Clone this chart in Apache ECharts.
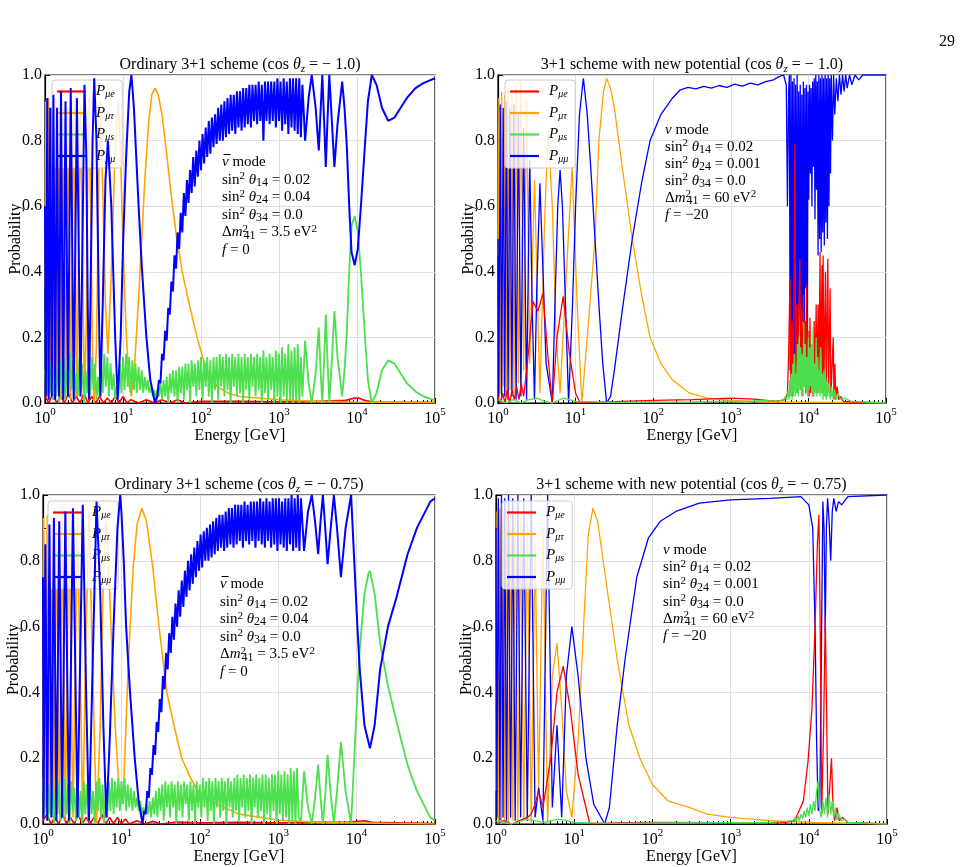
<!DOCTYPE html>
<html>
<head>
<meta charset="utf-8">
<script src="https://cdn.jsdelivr.net/npm/echarts@6/dist/echarts.min.js"></script>
<style>
html, body { margin: 0; padding: 0; background: #fff; }
#main { width: 969px; height: 867px; }
</style>
</head>
<body>
<div id="main"></div>
<script>
// points are [log10(E / GeV), probability]
let names = ['P_μe', 'P_μτ', 'P_μs', 'P_μμ'];
let colors = ['#ff0000', '#ffa500', '#4ddf4d', '#0000ff'];
let xTicks = [0, 1, 2, 3, 4, 5];

// ---- top left: ordinary 3+1, cos = -1.0, antineutrino
let tlMuE = [[0,0.02],[0.05,0.0],[0.1,0.03],[0.15,0.0],[0.2,0.02],[0.25,0.0],[0.3,0.03],[0.35,0.0],[0.4,0.02],[0.45,0.0],[0.5,0.03],[0.55,0.0],[0.6,0.02],[0.65,0.0],[0.7,0.02],[0.75,0.0],[0.8,0.015],[0.85,0.0],[0.9,0.02],[0.95,0.0],[1.0,0.02],[1.05,0.0],[1.1,0.01],[1.2,0.0],[1.3,0.01],[1.4,0.0],[1.5,0.01],[1.6,0.0],[1.7,0.01],[1.8,0.0],[2.0,0.005],[2.5,0.005],[3.0,0.004],[3.5,0.005],[3.85,0.008],[3.95,0.014],[4.02,0.015],[4.1,0.008],[4.2,0.003],[5,0.001]];
let tlMuTau = [[0,0.35],[0.011,0.92],[0.029,0.02],[0.047,0.93],[0.067,0.04],[0.087,0.9],[0.108,0.01],[0.13,0.93],[0.154,0.05],[0.179,0.91],[0.205,0.01],[0.233,0.92],[0.263,0.03],[0.295,0.9],[0.33,0.01],[0.368,0.92],[0.409,0.02],[0.455,0.91],[0.506,0.01],[0.53,0.25],[0.548,0.7],[0.564,0.93],[0.585,0.6],[0.61,0.15],[0.631,0.0],[0.66,0.18],[0.69,0.7],[0.71,0.92],[0.74,0.65],[0.775,0.3],[0.807,0.15],[0.85,0.4],[0.9,0.78],[0.94,0.92],[0.97,0.75],[1.0,0.48],[1.04,0.22],[1.08,0.05],[1.108,0.02],[1.15,0.12],[1.2,0.32],[1.24,0.5],[1.28,0.68],[1.33,0.86],[1.37,0.94],[1.41,0.96],[1.45,0.94],[1.5,0.88],[1.56,0.76],[1.62,0.63],[1.69,0.5],[1.76,0.4],[1.85,0.3],[1.95,0.2],[2.02,0.14],[2.08,0.1],[2.15,0.07],[2.21,0.05],[2.35,0.03],[2.5,0.02],[3.0,0.01],[3.5,0.005],[4.0,0.003],[5.0,0.001]];
let tlMuS = [[0,0.1],[0.02,0.02],[0.04,0.14],[0.06,0.03],[0.08,0.12],[0.1,0.01],[0.12,0.15],[0.14,0.02],[0.16,0.1],[0.18,0.0],[0.2,0.13],[0.22,0.03],[0.24,0.14],[0.26,0.01],[0.28,0.1],[0.3,0.02],[0.32,0.15],[0.34,0.04],[0.36,0.13],[0.38,0.01],[0.4,0.09],[0.42,0.02],[0.44,0.14],[0.46,0.03],[0.48,0.12],[0.5,0.0],[0.52,0.1],[0.54,0.03],[0.56,0.15],[0.58,0.02],[0.6,0.14],[0.62,0.04],[0.64,0.12],[0.66,0.01],[0.68,0.08],[0.7,0.02],[0.72,0.12],[0.74,0.03],[0.76,0.15],[0.78,0.05],[0.8,0.14],[0.82,0.02],[0.84,0.12],[0.86,0.04],[0.88,0.09],[0.9,0.01],[0.92,0.05],[0.94,0.02],[0.96,0.12],[0.98,0.03],[1.0,0.14],[1.02,0.04],[1.04,0.15],[1.06,0.05],[1.08,0.14],[1.1,0.03],[1.12,0.13],[1.14,0.04],[1.16,0.12],[1.18,0.03],[1.2,0.11],[1.22,0.04],[1.24,0.1],[1.26,0.03],[1.28,0.08],[1.3,0.04],[1.32,0.07],[1.34,0.03],[1.36,0.05],[1.38,0.02],[1.4,0.04],[1.42,0.01],[1.44,0.04],[1.46,0.02],[1.48,0.06],[1.5,0.01],[1.52,0.07],[1.54,0.02],[1.56,0.08],[1.58,0.0],[1.6,0.09],[1.62,0.03],[1.64,0.1],[1.66,0.02],[1.68,0.1],[1.7,0.0],[1.72,0.11],[1.74,0.03],[1.76,0.11],[1.78,0.01],[1.8,0.12],[1.82,0.04],[1.84,0.12],[1.86,0.0],[1.88,0.13],[1.9,0.05],[1.92,0.12],[1.94,0.02],[1.96,0.13],[1.98,0.04],[2.0,0.14],[2.02,0.01],[2.04,0.13],[2.06,0.05],[2.08,0.14],[2.1,0.02],[2.12,0.13],[2.14,0.0],[2.16,0.14],[2.18,0.04],[2.2,0.14],[2.22,0.01],[2.24,0.15],[2.26,0.05],[2.28,0.14],[2.3,0.02],[2.32,0.15],[2.34,0.04],[2.36,0.14],[2.38,0.0],[2.4,0.15],[2.42,0.05],[2.44,0.14],[2.46,0.02],[2.48,0.15],[2.5,0.03],[2.52,0.14],[2.54,0.0],[2.56,0.15],[2.58,0.04],[2.6,0.14],[2.62,0.01],[2.64,0.15],[2.66,0.05],[2.68,0.14],[2.7,0.02],[2.72,0.15],[2.74,0.04],[2.76,0.14],[2.78,0.0],[2.8,0.16],[2.82,0.03],[2.84,0.14],[2.86,0.01],[2.88,0.15],[2.9,0.04],[2.92,0.14],[2.94,0.0],[2.96,0.16],[2.98,0.02],[3.0,0.15],[3.02,0.0],[3.04,0.17],[3.06,0.02],[3.08,0.15],[3.1,0.0],[3.12,0.18],[3.14,0.01],[3.16,0.16],[3.18,0.0],[3.2,0.17],[3.22,0.01],[3.24,0.18],[3.26,0.0],[3.28,0.14],[3.3,0.02],[3.335,0.19],[3.38,0.06],[3.42,0.0],[3.47,0.09],[3.51,0.23],[3.535,0.09],[3.555,0.0],[3.58,0.14],[3.6,0.27],[3.62,0.14],[3.645,0.0],[3.68,0.14],[3.71,0.28],[3.75,0.14],[3.81,0.02],[3.84,0.1],[3.87,0.22],[3.9,0.4],[3.93,0.54],[3.97,0.57],[4.01,0.52],[4.05,0.4],[4.1,0.21],[4.14,0.07],[4.19,0.0],[4.25,0.03],[4.32,0.1],[4.4,0.13],[4.48,0.12],[4.56,0.09],[4.64,0.06],[4.75,0.035],[4.85,0.02],[5.0,0.008]];
let tlMuMu = [[0,0.6],[0.011,0.02],[0.029,0.93],[0.047,0.01],[0.067,0.9],[0.087,0.02],[0.108,0.94],[0.13,0.01],[0.154,0.9],[0.179,0.02],[0.205,0.95],[0.233,0.01],[0.263,0.92],[0.295,0.02],[0.33,0.96],[0.368,0.01],[0.409,0.93],[0.455,0.02],[0.506,0.97],[0.53,0.75],[0.548,0.3],[0.564,0.01],[0.585,0.35],[0.61,0.8],[0.631,0.99],[0.66,0.8],[0.69,0.3],[0.71,0.02],[0.74,0.3],[0.775,0.68],[0.807,0.8],[0.85,0.6],[0.9,0.2],[0.932,0.01],[0.97,0.2],[1.0,0.48],[1.04,0.75],[1.08,0.95],[1.108,1.0],[1.14,0.9],[1.17,0.75],[1.2,0.6],[1.24,0.42],[1.3,0.2],[1.35,0.07],[1.41,0.0],[1.44,0.02],[1.46,0.07],[1.48,0.06],[1.5,0.15],[1.52,0.13],[1.54,0.22],[1.56,0.19],[1.58,0.29],[1.6,0.27],[1.62,0.37],[1.64,0.34],[1.66,0.45],[1.68,0.41],[1.7,0.52],[1.72,0.47],[1.74,0.58],[1.76,0.52],[1.78,0.64],[1.8,0.57],[1.82,0.68],[1.84,0.61],[1.86,0.71],[1.88,0.64],[1.9,0.75],[1.92,0.66],[1.94,0.77],[1.96,0.69],[1.98,0.8],[2.0,0.71],[2.02,0.82],[2.04,0.73],[2.06,0.84],[2.08,0.75],[2.1,0.86],[2.12,0.76],[2.14,0.87],[2.16,0.78],[2.18,0.88],[2.2,0.79],[2.22,0.9],[2.24,0.8],[2.26,0.91],[2.28,0.8],[2.3,0.92],[2.32,0.81],[2.34,0.93],[2.36,0.82],[2.38,0.94],[2.4,0.83],[2.42,0.94],[2.44,0.82],[2.46,0.95],[2.48,0.84],[2.5,0.95],[2.52,0.83],[2.54,0.96],[2.56,0.84],[2.58,0.96],[2.6,0.85],[2.62,0.97],[2.64,0.84],[2.66,0.97],[2.68,0.86],[2.7,0.97],[2.72,0.85],[2.74,0.98],[2.76,0.86],[2.78,0.97],[2.8,0.8],[2.82,0.98],[2.84,0.86],[2.86,0.98],[2.88,0.85],[2.9,0.98],[2.92,0.86],[2.94,0.98],[2.96,0.84],[2.98,0.99],[3.0,0.86],[3.02,0.98],[3.04,0.83],[3.06,0.99],[3.08,0.85],[3.1,0.98],[3.12,0.82],[3.14,0.99],[3.16,0.84],[3.18,0.99],[3.2,0.83],[3.22,0.99],[3.24,0.82],[3.26,0.99],[3.28,0.81],[3.3,0.97],[3.335,0.8],[3.38,0.93],[3.42,1.0],[3.47,0.9],[3.51,0.77],[3.535,0.9],[3.555,1.0],[3.58,0.85],[3.6,0.72],[3.62,0.85],[3.645,1.0],[3.68,0.85],[3.71,0.72],[3.75,0.85],[3.81,0.98],[3.84,0.9],[3.87,0.78],[3.9,0.6],[3.93,0.46],[3.97,0.42],[4.01,0.47],[4.05,0.6],[4.1,0.78],[4.14,0.92],[4.19,1.0],[4.25,0.97],[4.32,0.9],[4.4,0.86],[4.48,0.87],[4.56,0.9],[4.64,0.93],[4.75,0.96],[4.85,0.975],[5.0,0.99]];

// ---- top right: new potential, cos = -1.0, neutrino
let trMuE = [[0,0.02],[0.03,0.0],[0.06,0.03],[0.09,0.0],[0.12,0.04],[0.15,0.0],[0.18,0.04],[0.21,0.01],[0.24,0.05],[0.27,0.01],[0.3,0.06],[0.33,0.02],[0.37,0.1],[0.41,0.2],[0.45,0.31],[0.515,0.28],[0.58,0.335],[0.64,0.15],[0.7,0.0],[0.76,0.2],[0.84,0.325],[0.92,0.15],[1.0,0.03],[1.06,0.0],[1.2,0.002],[1.5,0.004],[2.0,0.008],[2.5,0.01],[3.0,0.015],[3.3,0.012],[3.6,0.005],[3.7,0.01],[3.73,0.03],[3.745,0.15],[3.763,0.38],[3.775,0.05],[3.79,0.25],[3.8,0.02],[3.815,0.35],[3.827,0.79],[3.835,0.05],[3.85,0.3],[3.86,0.03],[3.875,0.26],[3.89,0.44],[3.9,0.04],[3.91,0.29],[3.92,0.02],[3.935,0.33],[3.945,0.05],[3.955,0.25],[3.965,0.03],[3.975,0.36],[3.985,0.05],[3.995,0.22],[4.01,0.02],[4.02,0.26],[4.03,0.03],[4.045,0.18],[4.06,0.02],[4.075,0.25],[4.085,0.04],[4.1,0.3],[4.11,0.03],[4.125,0.3],[4.135,0.04],[4.15,0.46],[4.16,0.04],[4.175,0.42],[4.185,0.03],[4.19,0.45],[4.2,0.05],[4.22,0.4],[4.23,0.03],[4.25,0.44],[4.26,0.04],[4.28,0.35],[4.29,0.02],[4.32,0.2],[4.33,0.01],[4.34,0.12],[4.355,0.01],[4.37,0.05],[4.39,0.01],[4.42,0.02],[4.45,0.005],[4.6,0.003],[5,0.0]];
let trMuTau = [[0,0.45],[0.011,0.93],[0.029,0.03],[0.047,0.95],[0.067,0.05],[0.087,0.94],[0.108,0.02],[0.13,0.96],[0.154,0.04],[0.179,0.95],[0.205,0.03],[0.233,0.97],[0.263,0.06],[0.295,0.98],[0.33,0.1],[0.368,0.93],[0.409,0.12],[0.47,0.68],[0.54,0.03],[0.6,0.55],[0.645,0.83],[0.7,0.6],[0.75,0.2],[0.8,0.03],[0.86,0.3],[0.955,0.72],[1.02,0.3],[1.08,0.0],[1.15,0.2],[1.25,0.5],[1.3,0.8],[1.36,0.95],[1.4,0.99],[1.45,0.96],[1.5,0.9],[1.6,0.72],[1.73,0.5],[1.85,0.33],[1.96,0.2],[2.1,0.12],[2.25,0.07],[2.47,0.03],[2.7,0.015],[3.0,0.008],[3.5,0.003],[5,0.0]];
let trMuS = [[0,0.01],[0.1,0.0],[0.2,0.01],[0.3,0.0],[0.4,0.01],[0.5,0.015],[0.6,0.005],[0.7,0.0],[0.85,0.015],[1.0,0.005],[1.5,0.002],[2.5,0.003],[3.0,0.006],[3.2,0.003],[3.4,0.008],[3.6,0.005],[3.68,0.01],[3.7,0.02],[3.72,0.01],[3.74,0.04],[3.75,0.01],[3.76,0.07],[3.77,0.02],[3.78,0.09],[3.79,0.01],[3.8,0.12],[3.81,0.03],[3.82,0.15],[3.83,0.02],[3.84,0.09],[3.85,0.03],[3.86,0.18],[3.87,0.02],[3.88,0.2],[3.89,0.04],[3.9,0.17],[3.91,0.03],[3.92,0.15],[3.93,0.02],[3.94,0.245],[3.95,0.05],[3.96,0.18],[3.97,0.03],[3.98,0.14],[3.99,0.02],[4.0,0.2],[4.01,0.04],[4.02,0.17],[4.03,0.05],[4.04,0.18],[4.05,0.03],[4.06,0.23],[4.07,0.02],[4.08,0.12],[4.09,0.03],[4.1,0.2],[4.11,0.02],[4.12,0.14],[4.13,0.03],[4.14,0.1],[4.15,0.02],[4.16,0.17],[4.17,0.03],[4.18,0.09],[4.19,0.01],[4.2,0.1],[4.21,0.02],[4.22,0.08],[4.23,0.01],[4.24,0.07],[4.25,0.02],[4.26,0.06],[4.28,0.01],[4.3,0.05],[4.32,0.01],[4.34,0.04],[4.36,0.01],[4.38,0.03],[4.42,0.01],[4.46,0.015],[4.55,0.005],[5,0.0]];
let trMuMu = [[0,0.5],[0.011,0.02],[0.029,0.91],[0.047,0.01],[0.067,0.9],[0.087,0.02],[0.108,0.92],[0.13,0.01],[0.154,0.9],[0.179,0.02],[0.205,0.91],[0.233,0.01],[0.263,0.88],[0.295,0.02],[0.33,0.84],[0.368,0.01],[0.409,0.74],[0.44,0.3],[0.47,0.01],[0.5,0.35],[0.54,0.67],[0.58,0.4],[0.62,0.12],[0.7,0.0],[0.74,0.35],[0.77,0.6],[0.8,0.71],[0.83,0.6],[0.87,0.3],[0.91,0.0],[0.96,0.3],[1.0,0.6],[1.05,0.88],[1.1,0.99],[1.15,0.88],[1.2,0.7],[1.25,0.5],[1.3,0.3],[1.35,0.12],[1.4,0.0],[1.45,0.02],[1.5,0.1],[1.6,0.28],[1.73,0.5],[1.85,0.67],[1.96,0.8],[2.1,0.88],[2.25,0.93],[2.35,0.955],[2.45,0.962],[2.55,0.958],[2.65,0.965],[2.75,0.96],[2.85,0.968],[2.95,0.962],[3.05,0.972],[3.15,0.966],[3.25,0.975],[3.35,0.97],[3.45,0.98],[3.55,0.985],[3.62,0.995],[3.68,1.0],[3.715,0.97],[3.73,0.6],[3.745,0.95],[3.755,1.0],[3.765,0.1],[3.775,1.0],[3.785,0.05],[3.795,0.98],[3.805,0.2],[3.815,0.99],[3.825,0.05],[3.835,0.97],[3.845,0.15],[3.855,1.0],[3.865,0.08],[3.875,0.95],[3.885,0.3],[3.895,0.97],[3.905,0.1],[3.915,0.94],[3.925,0.25],[3.935,0.98],[3.945,0.12],[3.955,0.96],[3.965,0.35],[3.975,0.97],[3.985,0.2],[3.995,0.95],[4.005,0.62],[4.015,0.97],[4.025,0.7],[4.035,0.96],[4.045,0.6],[4.055,0.98],[4.065,0.72],[4.075,0.99],[4.085,0.56],[4.095,1.0],[4.105,0.65],[4.115,0.98],[4.125,0.45],[4.135,1.0],[4.145,0.5],[4.155,0.99],[4.165,0.46],[4.175,1.0],[4.185,0.52],[4.195,0.99],[4.205,0.48],[4.215,1.0],[4.225,0.55],[4.235,0.99],[4.245,0.5],[4.255,1.0],[4.265,0.6],[4.275,0.99],[4.285,0.7],[4.295,1.0],[4.31,0.8],[4.325,1.0],[4.34,0.88],[4.36,0.99],[4.38,0.92],[4.4,1.0],[4.42,0.94],[4.44,1.0],[4.46,0.95],[4.48,1.0],[4.5,0.96],[4.53,1.0],[4.56,0.97],[4.6,1.0],[4.65,0.985],[4.7,1.0],[5.0,1.0]];

// ---- bottom left: ordinary 3+1, cos = -0.75, antineutrino
let blMuE = [[0,0.01],[0.05,0.03],[0.1,0.0],[0.15,0.02],[0.2,0.0],[0.25,0.03],[0.3,0.0],[0.35,0.02],[0.4,0.0],[0.45,0.03],[0.5,0.0],[0.55,0.02],[0.6,0.0],[0.65,0.02],[0.7,0.0],[0.75,0.03],[0.8,0.0],[0.85,0.02],[0.9,0.0],[0.95,0.02],[1.0,0.0],[1.05,0.015],[1.1,0.0],[1.2,0.01],[1.3,0.0],[1.4,0.008],[1.5,0.0],[1.7,0.006],[2.0,0.004],[2.5,0.005],[3.0,0.004],[3.5,0.005],[3.9,0.006],[4.1,0.01],[4.2,0.005],[5,0.001]];
let blMuTau = [[0,0.2],[0.007,0.93],[0.03,0.05],[0.054,0.94],[0.082,0.03],[0.109,0.92],[0.139,0.02],[0.171,0.94],[0.207,0.03],[0.244,0.93],[0.285,0.01],[0.331,0.95],[0.382,0.02],[0.44,0.93],[0.507,0.01],[0.55,0.6],[0.586,0.95],[0.63,0.5],[0.683,0.0],[0.73,0.3],[0.77,0.75],[0.808,0.92],[0.85,0.7],[0.92,0.3],[0.985,0.05],[1.03,0.12],[1.09,0.5],[1.15,0.78],[1.2,0.91],[1.26,0.96],[1.32,0.92],[1.4,0.78],[1.47,0.62],[1.53,0.5],[1.58,0.4],[1.67,0.3],[1.77,0.2],[1.88,0.14],[1.98,0.1],[2.1,0.08],[2.22,0.06],[2.5,0.03],[3.0,0.012],[3.5,0.005],[5,0.0]];
let blMuS = [[0,0.14],[0.02,0.03],[0.04,0.13],[0.06,0.01],[0.08,0.12],[0.1,0.02],[0.12,0.14],[0.14,0.0],[0.16,0.11],[0.18,0.03],[0.2,0.13],[0.22,0.01],[0.24,0.1],[0.26,0.02],[0.28,0.14],[0.3,0.03],[0.32,0.12],[0.34,0.0],[0.36,0.13],[0.38,0.04],[0.4,0.11],[0.42,0.01],[0.44,0.14],[0.46,0.02],[0.48,0.1],[0.5,0.0],[0.52,0.13],[0.54,0.03],[0.56,0.12],[0.58,0.01],[0.6,0.14],[0.62,0.03],[0.64,0.1],[0.66,0.0],[0.68,0.13],[0.7,0.04],[0.72,0.14],[0.74,0.02],[0.76,0.12],[0.78,0.0],[0.8,0.09],[0.82,0.02],[0.84,0.13],[0.86,0.04],[0.88,0.14],[0.9,0.03],[0.92,0.13],[0.94,0.05],[0.96,0.14],[0.98,0.04],[1.0,0.13],[1.02,0.06],[1.04,0.14],[1.06,0.04],[1.08,0.12],[1.1,0.05],[1.12,0.11],[1.14,0.04],[1.16,0.1],[1.18,0.05],[1.2,0.08],[1.22,0.04],[1.24,0.07],[1.26,0.03],[1.28,0.05],[1.3,0.04],[1.32,0.06],[1.34,0.03],[1.36,0.07],[1.38,0.02],[1.4,0.08],[1.42,0.03],[1.44,0.1],[1.46,0.02],[1.48,0.11],[1.5,0.04],[1.52,0.12],[1.54,0.01],[1.56,0.13],[1.58,0.05],[1.6,0.12],[1.62,0.02],[1.64,0.13],[1.66,0.05],[1.68,0.12],[1.7,0.0],[1.72,0.13],[1.74,0.04],[1.76,0.12],[1.78,0.02],[1.8,0.13],[1.82,0.06],[1.84,0.12],[1.86,0.01],[1.88,0.13],[1.9,0.04],[1.92,0.12],[1.94,0.0],[1.96,0.13],[1.98,0.05],[2.0,0.12],[2.02,0.02],[2.04,0.14],[2.06,0.05],[2.08,0.13],[2.1,0.01],[2.12,0.14],[2.14,0.04],[2.16,0.13],[2.18,0.0],[2.2,0.14],[2.22,0.05],[2.24,0.13],[2.26,0.02],[2.28,0.14],[2.3,0.04],[2.32,0.13],[2.34,0.0],[2.36,0.14],[2.38,0.05],[2.4,0.13],[2.42,0.02],[2.44,0.14],[2.46,0.04],[2.48,0.15],[2.5,0.01],[2.52,0.14],[2.54,0.05],[2.56,0.15],[2.58,0.02],[2.6,0.14],[2.62,0.04],[2.64,0.15],[2.66,0.0],[2.68,0.14],[2.7,0.05],[2.72,0.15],[2.74,0.02],[2.76,0.14],[2.78,0.04],[2.8,0.15],[2.82,0.0],[2.84,0.15],[2.86,0.03],[2.88,0.14],[2.9,0.01],[2.92,0.15],[2.94,0.04],[2.96,0.15],[2.98,0.0],[3.0,0.16],[3.02,0.03],[3.04,0.15],[3.06,0.01],[3.08,0.16],[3.1,0.02],[3.12,0.15],[3.14,0.0],[3.16,0.17],[3.18,0.01],[3.2,0.16],[3.22,0.0],[3.24,0.17],[3.26,0.02],[3.29,0.01],[3.33,0.16],[3.38,0.05],[3.43,0.0],[3.47,0.08],[3.51,0.18],[3.54,0.08],[3.57,0.0],[3.6,0.09],[3.63,0.21],[3.67,0.09],[3.71,0.0],[3.75,0.1],[3.8,0.25],[3.86,0.1],[3.93,0.0],[3.97,0.2],[4.01,0.4],[4.04,0.53],[4.1,0.7],[4.15,0.76],[4.17,0.77],[4.23,0.7],[4.3,0.55],[4.4,0.42],[4.51,0.31],[4.65,0.18],[4.77,0.1],[4.94,0.02],[5.0,0.01]];
let blMuMu = [[0,0.75],[0.007,0.02],[0.03,0.85],[0.054,0.01],[0.082,0.91],[0.109,0.02],[0.139,0.93],[0.171,0.01],[0.207,0.92],[0.244,0.02],[0.285,0.95],[0.331,0.01],[0.382,0.96],[0.44,0.02],[0.507,0.97],[0.55,0.4],[0.586,0.01],[0.63,0.45],[0.683,0.98],[0.73,0.7],[0.77,0.3],[0.808,0.02],[0.85,0.25],[0.9,0.6],[0.95,0.9],[0.985,1.0],[1.0,0.95],[1.03,0.8],[1.06,0.6],[1.11,0.4],[1.17,0.2],[1.22,0.07],[1.27,0.0],[1.29,0.04],[1.31,0.03],[1.33,0.1],[1.35,0.08],[1.37,0.17],[1.39,0.15],[1.41,0.24],[1.43,0.21],[1.45,0.31],[1.47,0.28],[1.49,0.38],[1.51,0.34],[1.53,0.45],[1.55,0.41],[1.57,0.52],[1.59,0.47],[1.61,0.58],[1.63,0.52],[1.65,0.63],[1.67,0.56],[1.69,0.67],[1.71,0.6],[1.73,0.71],[1.75,0.63],[1.77,0.74],[1.79,0.66],[1.81,0.77],[1.83,0.69],[1.85,0.8],[1.87,0.71],[1.89,0.82],[1.91,0.73],[1.93,0.84],[1.95,0.75],[1.97,0.86],[1.99,0.77],[2.01,0.88],[2.03,0.78],[2.05,0.89],[2.07,0.8],[2.09,0.9],[2.11,0.8],[2.13,0.91],[2.15,0.81],[2.17,0.92],[2.19,0.82],[2.21,0.93],[2.23,0.83],[2.25,0.94],[2.27,0.84],[2.29,0.94],[2.31,0.83],[2.33,0.95],[2.35,0.84],[2.37,0.96],[2.39,0.85],[2.41,0.96],[2.43,0.84],[2.45,0.97],[2.47,0.85],[2.49,0.97],[2.51,0.86],[2.53,0.97],[2.55,0.84],[2.57,0.98],[2.59,0.86],[2.61,0.97],[2.63,0.85],[2.65,0.98],[2.67,0.86],[2.69,0.98],[2.71,0.84],[2.73,0.98],[2.75,0.86],[2.77,0.99],[2.79,0.85],[2.81,0.98],[2.83,0.84],[2.85,0.99],[2.87,0.86],[2.89,0.98],[2.91,0.84],[2.93,0.99],[2.95,0.85],[2.97,0.99],[2.99,0.83],[3.01,0.99],[3.03,0.85],[3.05,0.98],[3.07,0.84],[3.09,0.99],[3.11,0.83],[3.13,0.99],[3.15,0.85],[3.17,1.0],[3.19,0.83],[3.21,0.99],[3.23,0.84],[3.25,1.0],[3.27,0.83],[3.29,0.99],[3.33,0.83],[3.38,0.95],[3.43,1.0],[3.47,0.92],[3.51,0.82],[3.54,0.92],[3.57,1.0],[3.6,0.9],[3.63,0.79],[3.67,0.9],[3.71,1.0],[3.75,0.9],[3.8,0.75],[3.86,0.9],[3.93,1.0],[3.97,0.8],[4.01,0.6],[4.04,0.47],[4.1,0.3],[4.17,0.23],[4.23,0.3],[4.3,0.47],[4.4,0.6],[4.51,0.69],[4.65,0.82],[4.77,0.9],[4.94,0.98],[5.0,0.99]];

// ---- bottom right: new potential, cos = -0.75, neutrino
let brMuE = [[0,0.0],[0.1,0.01],[0.2,0.0],[0.3,0.01],[0.4,0.02],[0.45,0.03],[0.5,0.06],[0.545,0.1],[0.6,0.05],[0.7,0.2],[0.78,0.4],[0.86,0.48],[0.95,0.35],[1.05,0.15],[1.2,0.0],[1.5,0.003],[2.0,0.005],[3.0,0.004],[3.7,0.005],[3.82,0.01],[3.93,0.07],[3.99,0.19],[4.04,0.35],[4.08,0.6],[4.11,0.85],[4.13,0.94],[4.15,0.5],[4.165,0.03],[4.19,0.3],[4.21,0.63],[4.23,0.3],[4.245,0.03],[4.27,0.12],[4.29,0.2],[4.31,0.05],[4.33,0.01],[4.36,0.05],[4.39,0.01],[4.43,0.02],[4.5,0.005],[5,0.0]];
let brMuTau = [[0,0.1],[0.012,0.95],[0.03,0.01],[0.05,0.96],[0.07,0.0],[0.09,0.95],[0.112,0.01],[0.135,0.96],[0.16,0.0],[0.187,0.95],[0.215,0.01],[0.245,0.94],[0.28,0.0],[0.315,0.93],[0.355,0.01],[0.4,0.92],[0.45,0.0],[0.5,0.85],[0.545,0.1],[0.6,0.9],[0.66,0.0],[0.72,0.45],[0.78,0.55],[0.84,0.35],[0.9,0.1],[0.97,0.02],[1.05,0.25],[1.12,0.6],[1.18,0.88],[1.24,0.96],[1.3,0.92],[1.4,0.75],[1.55,0.5],[1.7,0.3],[1.84,0.2],[2.0,0.12],[2.2,0.07],[2.48,0.05],[2.7,0.03],[3.0,0.02],[3.5,0.01],[4.0,0.005],[5,0.0]];
let brMuS = [[0,0.01],[0.2,0.0],[0.4,0.015],[0.6,0.005],[0.8,0.015],[1.0,0.005],[1.5,0.002],[2.0,0.003],[3.0,0.004],[3.5,0.005],[3.7,0.008],[3.8,0.01],[3.82,0.02],[3.84,0.01],[3.86,0.025],[3.88,0.01],[3.9,0.03],[3.92,0.015],[3.94,0.04],[3.96,0.02],[3.98,0.05],[4.0,0.025],[4.02,0.06],[4.04,0.03],[4.06,0.07],[4.08,0.04],[4.1,0.1],[4.12,0.13],[4.14,0.04],[4.16,0.02],[4.18,0.07],[4.2,0.03],[4.22,0.08],[4.24,0.02],[4.26,0.09],[4.28,0.03],[4.3,0.07],[4.32,0.02],[4.34,0.05],[4.36,0.01],[4.38,0.03],[4.42,0.01],[4.46,0.015],[4.5,0.005],[5,0.0]];
let brMuMu = [[0,0.9],[0.012,0.02],[0.03,0.99],[0.05,0.01],[0.07,1.0],[0.09,0.02],[0.112,0.99],[0.135,0.01],[0.16,1.0],[0.187,0.02],[0.215,0.99],[0.245,0.01],[0.28,1.0],[0.315,0.02],[0.355,0.99],[0.4,0.01],[0.45,1.0],[0.5,0.02],[0.545,0.11],[0.6,0.01],[0.66,1.0],[0.72,0.05],[0.78,0.3],[0.84,0.02],[0.9,0.45],[0.97,0.6],[1.05,0.45],[1.15,0.2],[1.25,0.06],[1.39,0.0],[1.45,0.05],[1.55,0.3],[1.65,0.5],[1.8,0.75],[1.95,0.87],[2.1,0.92],[2.3,0.95],[2.6,0.975],[3.0,0.985],[3.5,0.99],[3.9,0.995],[4.0,0.97],[4.05,0.9],[4.08,0.6],[4.1,0.25],[4.12,0.04],[4.14,0.05],[4.16,0.5],[4.18,0.98],[4.195,0.9],[4.21,0.58],[4.225,0.9],[4.24,0.99],[4.26,0.92],[4.28,0.8],[4.3,0.95],[4.32,0.99],[4.35,0.95],[4.38,0.98],[4.42,0.97],[4.5,0.995],[5.0,1.0]];

let serif = '"Liberation Serif", "DejaVu Serif", serif';

let panels = [
    {left: 45, top: 75, width: 390, height: 328, title: 'Ordinary 3+1 scheme (cos ', cosv: '− 1.0)',
     curves: [tlMuE, tlMuTau, tlMuS, tlMuMu], z: [1, 2, 3, 4], lw: [1.6, 1.6, 1.8, 2.0],
     legend: [52, 80], text: [222, 162, 17.6], mode: 'bar', params: ['0.02', '0.04', '0.0', '3.5', '0']},
    {left: 498, top: 75, width: 388, height: 328, title: '3+1 scheme with new potential (cos ', cosv: '− 1.0)',
     curves: [trMuE, trMuTau, trMuS, trMuMu], z: [3, 1, 4, 2], lw: [1.3, 1.3, 1.3, 1.3],
     legend: [505, 80], text: [665, 130, 17], mode: 'nu', params: ['0.02', '0.001', '0.0', '60', '−20']},
    {left: 43, top: 495, width: 392, height: 329, title: 'Ordinary 3+1 scheme (cos ', cosv: '− 0.75)',
     curves: [blMuE, blMuTau, blMuS, blMuMu], z: [1, 2, 3, 4], lw: [1.6, 1.6, 1.8, 2.0],
     legend: [48, 501], text: [220, 584, 17.6], mode: 'bar', params: ['0.02', '0.04', '0.0', '3.5', '0']},
    {left: 496, top: 495, width: 391, height: 329, title: '3+1 scheme with new potential (cos ', cosv: '− 0.75)',
     curves: [brMuE, brMuTau, brMuS, brMuMu], z: [3, 1, 4, 2], lw: [1.3, 1.3, 1.3, 1.3],
     legend: [502, 501], text: [663, 550, 17.2], mode: 'nu', params: ['0.02', '0.001', '0.0', '60', '−20']}
];

let rich = {
    n: {fontFamily: serif, fontSize: 15, lineHeight: 18, color: '#000'},
    i: {fontFamily: serif, fontSize: 15, lineHeight: 18, fontStyle: 'italic', color: '#000'},
    up: {fontFamily: serif, fontSize: 11, lineHeight: 11, verticalAlign: 'top', color: '#000'},
    up0: {fontFamily: serif, fontSize: 11, lineHeight: 11, verticalAlign: 'top', color: '#000', width: 1},
    dn: {fontFamily: serif, fontSize: 12, lineHeight: 12, verticalAlign: 'bottom', color: '#000'}
};
let titleRich = {
    n: {fontFamily: serif, fontSize: 16, lineHeight: 20, color: '#000'},
    i: {fontFamily: serif, fontSize: 16, lineHeight: 20, fontStyle: 'italic', color: '#000'},
    dn: {fontFamily: serif, fontSize: 11, lineHeight: 11, verticalAlign: 'bottom', fontStyle: 'italic', color: '#000'}
};

function toXY(pts) {
    return pts.map(p => [Math.pow(10, p[0]), p[1]]);
}

let grids = [], xAxes = [], yAxes = [], series = [], legends = [], graphics = [];

panels.forEach((p, k) => {
    grids.push({left: p.left, top: p.top, width: p.width, height: p.height,
        show: true, borderColor: '#000', borderWidth: 1.2, backgroundColor: 'transparent'});
    xAxes.push({
        gridIndex: k, type: 'log', logBase: 10, min: 1, max: 100000,
        name: 'Energy [GeV]', nameLocation: 'middle', nameGap: 23,
        nameTextStyle: {fontFamily: serif, fontSize: 16, color: '#000'},
        axisLine: {lineStyle: {color: '#000', width: 1.2}},
        axisTick: {inside: true, length: 5, lineStyle: {color: '#000'}},
        minorTick: {show: true, splitNumber: 9, length: 3, lineStyle: {color: '#000'}},
        splitLine: {show: true, lineStyle: {color: '#e0e0e0', width: 1}},
        axisLabel: {
            margin: 4, showMinLabel: true, showMaxLabel: true,
            formatter: v => '{b|10}{e|' + xTicks[Math.round(Math.log10(v))] + '}',
            rich: {
                b: {fontFamily: serif, fontSize: 16, lineHeight: 20, verticalAlign: 'bottom', color: '#000'},
                e: {fontFamily: serif, fontSize: 11, lineHeight: 11, verticalAlign: 'top', color: '#000'}
            }
        }
    });
    yAxes.push({
        gridIndex: k, type: 'value', min: 0, max: 1, interval: 0.2,
        name: 'Probability', nameLocation: 'middle', nameGap: 21, nameMoveOverlap: false,
        nameTextStyle: {fontFamily: serif, fontSize: 16, color: '#000'},
        axisLine: {show: true, lineStyle: {color: '#000', width: 1.2}},
        axisTick: {show: true, inside: true, length: 5, lineStyle: {color: '#000'}},
        minorTick: {show: true, splitNumber: 2, length: 3, lineStyle: {color: '#000'}},
        splitLine: {show: true, lineStyle: {color: '#e0e0e0', width: 1}},
        axisLabel: {margin: 3, fontFamily: serif, fontSize: 16, color: '#000', formatter: v => v.toFixed(1)}
    });
    p.curves.forEach((arr, j) => {
        series.push({
            name: names[j], type: 'line', xAxisIndex: k, yAxisIndex: k,
            data: toXY(arr), showSymbol: false, symbol: 'none', z: p.z[j] + 1,
            color: colors[j], lineStyle: {color: colors[j], width: p.lw[j]},
            emphasis: {disabled: true}, animation: false
        });
    });
    legends.push({
        data: names, orient: 'vertical', left: p.legend[0], top: p.legend[1],
        icon: 'rect', itemWidth: 29, itemHeight: 2.2, itemGap: 6,
        padding: [4, 7, 4, 5], backgroundColor: 'rgba(255,255,255,0.8)',
        borderColor: '#cccccc', borderWidth: 1, borderRadius: 3, selectedMode: false,
        formatter: name => {
            let s = name.split('_');
            return '{p|' + s[0] + '}{s|' + s[1] + '}';
        },
        textStyle: {
            rich: {
                p: {fontFamily: serif, fontSize: 15, lineHeight: 16, fontStyle: 'italic', color: '#000', padding: [0, 0, 0, 5]},
                s: {fontFamily: serif, fontSize: 10, lineHeight: 10, fontStyle: 'italic', verticalAlign: 'bottom', color: '#000'}
            }
        }
    });
    // panel title
    graphics.push({
        type: 'text', x: p.left + p.width / 2, y: p.top - 10, z: 10,
        style: {
            text: '{n|' + p.title + '}{i|θ}{dn|z}{n| = ' + p.cosv + '}',
            rich: titleRich, align: 'center', verticalAlign: 'middle'
        }
    });
    // parameter block
    let lines = [
        '{i|ν}{n| mode}',
        '{n|sin}{up|2}{n| }{i|θ}{dn|14}{n| = ' + p.params[0] + '}',
        '{n|sin}{up|2}{n| }{i|θ}{dn|24}{n| = ' + p.params[1] + '}',
        '{n|sin}{up|2}{n| }{i|θ}{dn|34}{n| = ' + p.params[2] + '}',
        '{n|Δ}{i|m}{up0|2}{dn|41}{n| = ' + p.params[3] + ' eV}{up|2}',
        '{i|f}{n| = ' + p.params[4] + '}'
    ];
    lines.forEach((t, i) => {
        graphics.push({
            type: 'text', x: p.text[0], y: p.text[1] + i * p.text[2], z: 10,
            style: {text: t, rich: rich, align: 'left', verticalAlign: 'middle'}
        });
    });
    // bar over the antineutrino symbol
    if (p.mode === 'bar') {
        graphics.push({
            type: 'line', z: 10,
            shape: {x1: p.text[0] + 1.5, y1: p.text[1] - 7.5, x2: p.text[0] + 8.5, y2: p.text[1] - 7.5},
            style: {stroke: '#000', lineWidth: 1}
        });
    }
});

graphics.push({
    type: 'text', x: 947, y: 42, z: 10,
    style: {text: '29', fontFamily: serif, fontSize: 16, fill: '#000', align: 'center', verticalAlign: 'middle'}
});

let chart = echarts.init(document.getElementById('main'), null, {renderer: 'canvas'});
chart.setOption({
    animation: false,
    backgroundColor: '#fff',
    grid: grids,
    xAxis: xAxes,
    yAxis: yAxes,
    legend: legends,
    series: series,
    graphic: graphics
});
</script>
</body>
</html>
